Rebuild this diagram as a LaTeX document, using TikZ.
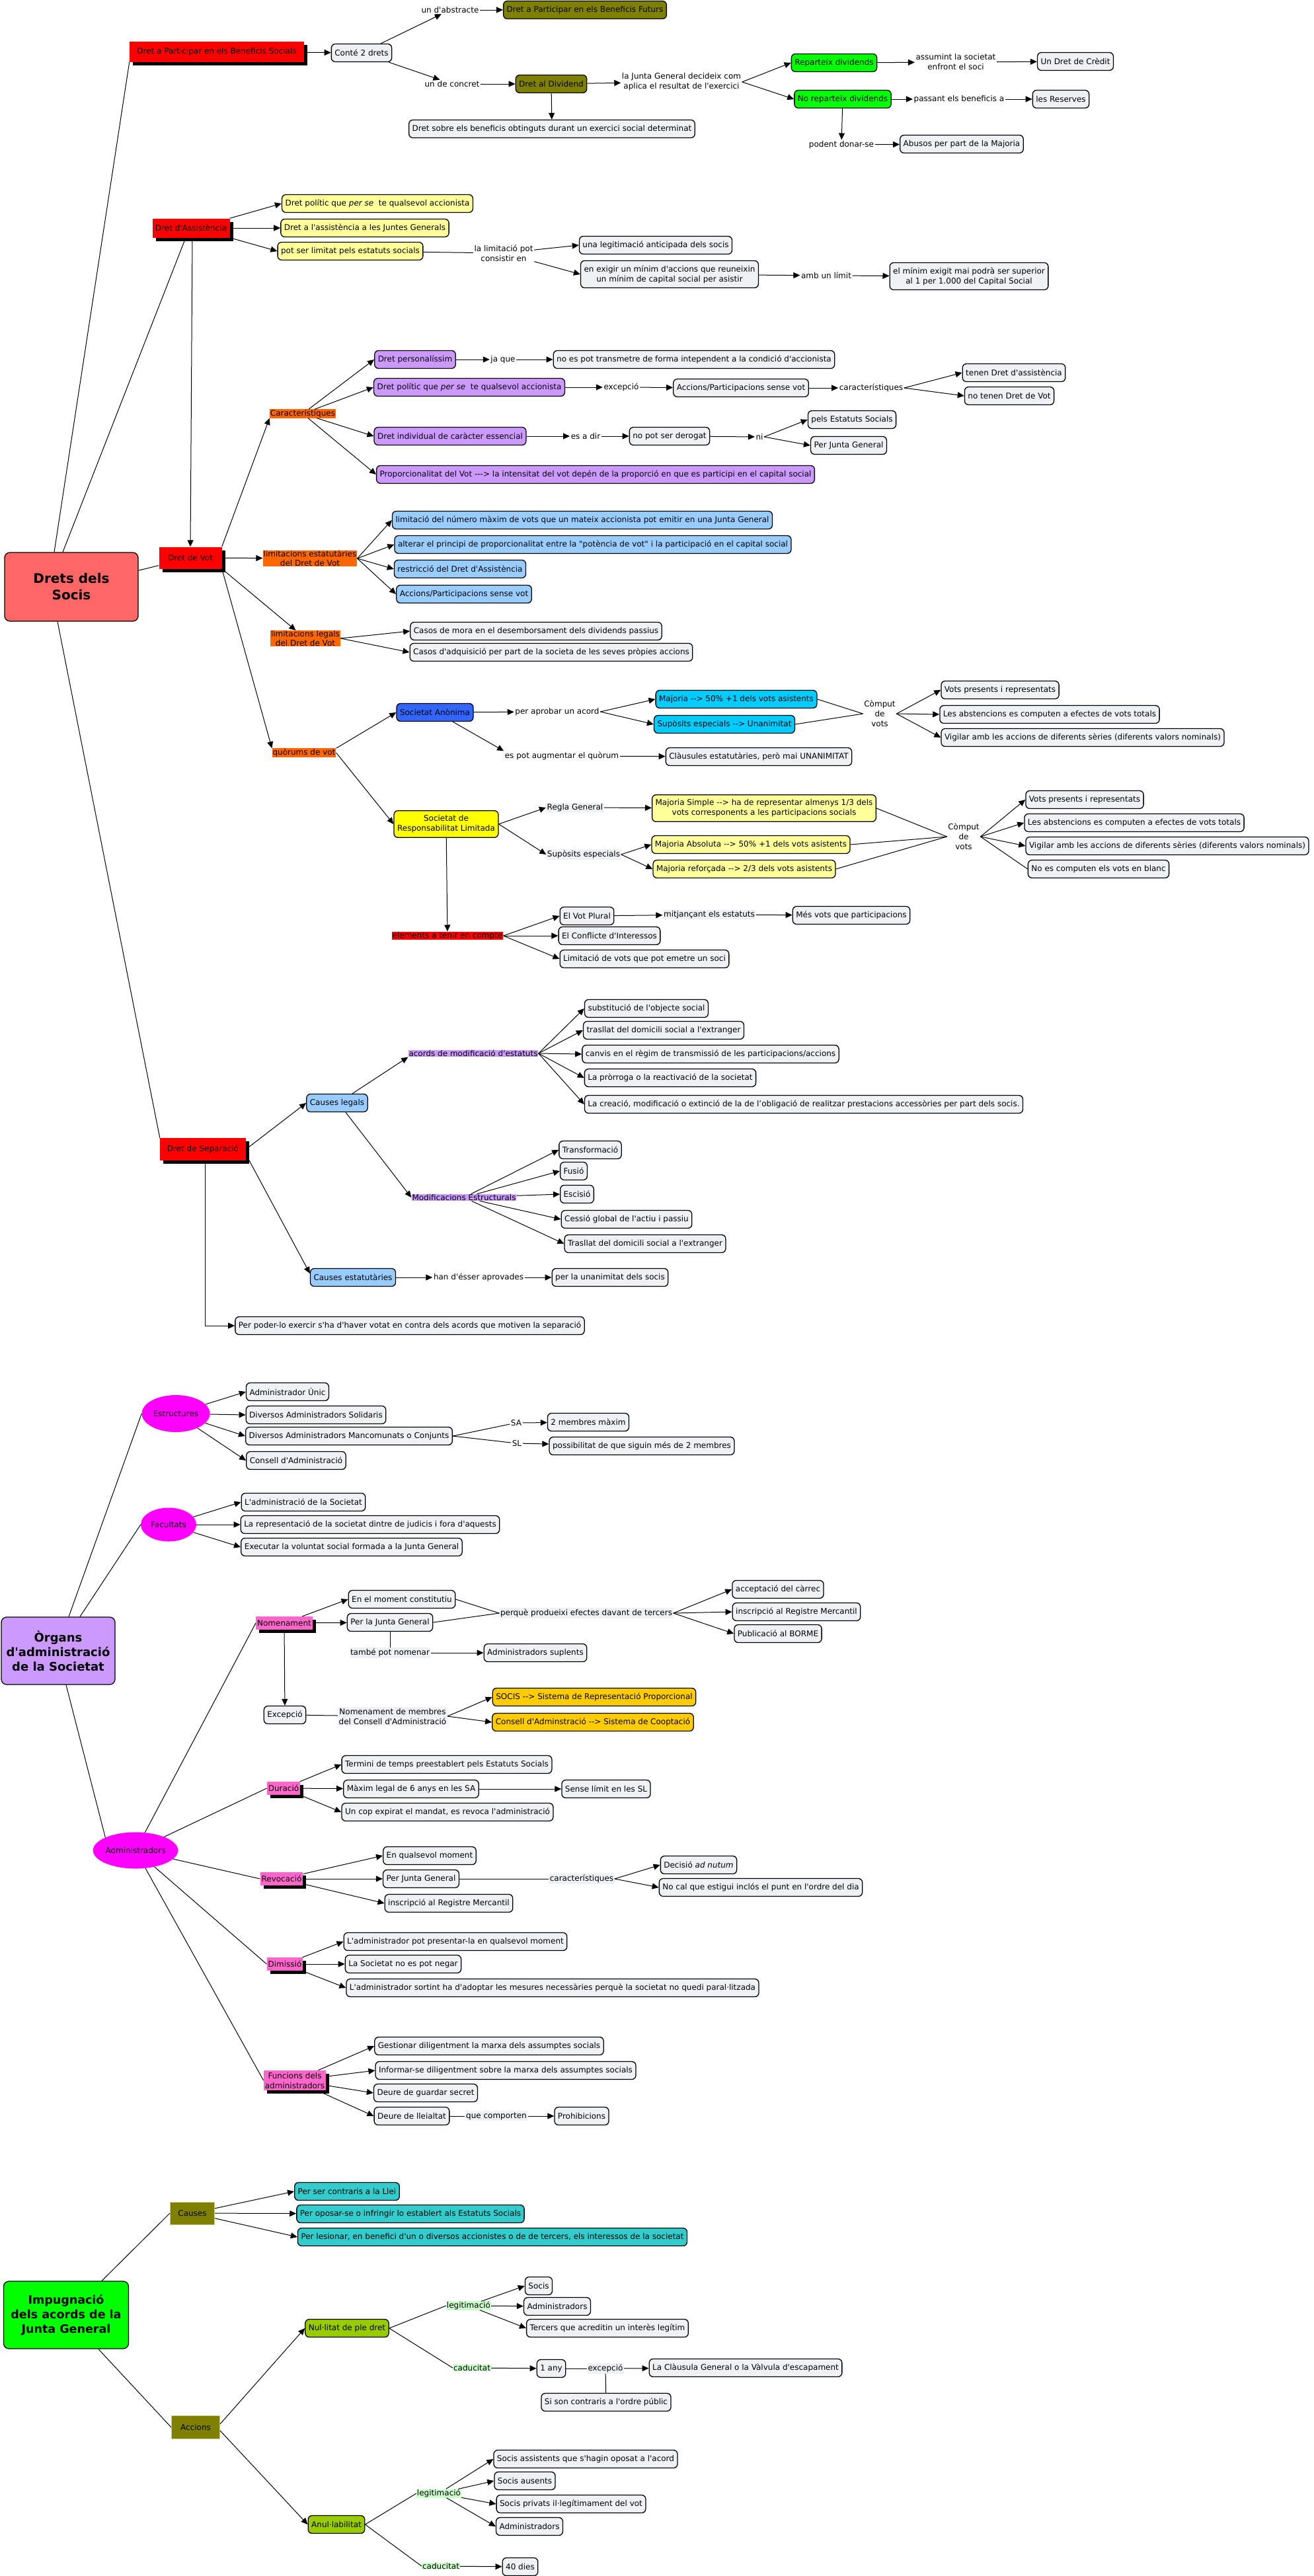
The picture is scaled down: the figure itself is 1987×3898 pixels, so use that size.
\documentclass[tikz,border=0pt]{standalone}
\usepackage{fontspec}
\newfontfamily\dv{DejaVu Sans}
\usetikzlibrary{arrows.meta,shapes.geometric,shadows}
\definecolor{cRed}{HTML}{FF0000}
\definecolor{cSalmon}{HTML}{FF6666}
\definecolor{cOlive}{HTML}{808000}
\definecolor{cGreen}{HTML}{00FF00}
\definecolor{cLYellow}{HTML}{FFFF99}
\definecolor{cPurp}{HTML}{CC99FF}
\definecolor{cOrange}{HTML}{FF6600}
\definecolor{cLBlue}{HTML}{99CCFF}
\definecolor{cSABlue}{HTML}{3366FF}
\definecolor{cCyan}{HTML}{00CCFF}
\definecolor{cYellow}{HTML}{FFFF00}
\definecolor{cMag}{HTML}{FF00FF}
\definecolor{cPink}{HTML}{FF66CC}
\definecolor{cGold}{HTML}{FFCC00}
\definecolor{cTeal}{HTML}{33CCCC}
\definecolor{cYGreen}{HTML}{99CC00}
\definecolor{cLGreen}{HTML}{CCFFCC}
\definecolor{boxbg}{HTML}{EEF2F4}
\definecolor{oborder}{HTML}{CCCC88}
\tikzset{
  every node/.style={font=\dv\fontsize{12}{15}\selectfont, align=center},
  box/.style={draw=black, line width=1.3pt, rounded corners=6pt, fill=boxbg, inner xsep=5pt, inner ysep=7pt, minimum height=27pt},
  shad/.style={drop shadow={shadow xshift=5pt, shadow yshift=-5pt, fill=black, opacity=1}},
  redbox/.style={fill=cRed, shad, inner sep=2pt},
  pbox/.style={fill=cPink, shad, inner xsep=2pt, inner ysep=3pt, minimum height=20pt},
  tag/.style={inner xsep=1pt, inner ysep=0.5pt, font=\dv\fontsize{12}{13.5}\selectfont},
  olbl/.style={tag, fill=cOrange},
  rlbl/.style={tag, fill=cRed},
  plbl/.style={tag, fill=cPurp},
  glbl/.style={tag, fill=cLGreen},
  lbl/.style={inner sep=1.5pt, fill=white},
  lblg/.style={inner sep=1.5pt, fill=boxbg},
  ell/.style={ellipse, fill=cMag, inner sep=0pt},
  obox/.style={fill=cOlive, draw=oborder, line width=1pt, minimum height=34pt, inner xsep=6pt},
  ln/.style={draw=black, line width=1pt},
  ar/.style={ln, -{Triangle[length=10pt,width=9pt]}},
}
\begin{document}
\begin{tikzpicture}[x=1pt,y=-1pt]
\path[use as bounding box, fill=white] (0,0) rectangle (1987,3898);

% ---------------- Drets dels Socis ----------------
\node[fill=cSalmon, draw=black, line width=1.3pt, rounded corners=8pt, minimum width=202pt, minimum height=104pt,
  font=\dv\bfseries\fontsize{20}{25}\selectfont] (socis) at (108,888) {Drets dels\\Socis};

% A: beneficis
\node[redbox, minimum width=264pt, minimum height=31pt] (part) at (328,78) {Dret a Participar en els Beneficis Socials};
\node[box] (conte) at (547,80) {Conté 2 drets};
\node[lbl] (abstr) at (681,15) {un d'abstracte};
\node[box, fill=cOlive] (futurs) at (885,15) {Dret a Participar en els Beneficis Futurs};
\node[lbl] (concret) at (684,127) {un de concret};
\node[box, fill=cOlive] (divid) at (834,127) {Dret al Dividend};
\node[lbl] (junta) at (1031,124) {la Junta General decideix com\\aplica el resultat de l'exercici};
\node[box] (sobre) at (835,195) {Dret sobre els beneficis obtinguts durant un exercici social determinat};
\node[box, fill=cGreen] (repart) at (1262,95) {Reparteix dividends};
\node[box, fill=cGreen] (norep) at (1275,150) {No reparteix dividends};
\node[lbl] (assum) at (1446,94) {assumint la societat\\enfront el soci};
\node[box] (credit) at (1627,93) {Un Dret de Crèdit};
\node[lbl] (passant) at (1451,150) {passant els beneficis a};
\node[box] (reserves) at (1605,150) {les Reserves};
\node[lbl] (podent) at (1273,219) {podent donar-se};
\node[box] (abusos) at (1455,218) {Abusos per part de la Majoria};

% B: assistencia
\node[redbox, minimum width=117pt, minimum height=29pt] (assist) at (289,345) {Dret d'Assistència};
\node[box, fill=cLYellow] (polit1) at (571,308) {Dret polític que \textit{per se}\ \ te qualsevol accionista};
\node[box, fill=cLYellow] (assistjg) at (552,345) {Dret a l'assistència a les Juntes Generals};
\node[box, fill=cLYellow] (potser) at (530,380) {pot ser limitat pels estatuts socials};
\node[lbl] (limit) at (762,383) {la limitació pot\\consistir en};
\node[box] (legit) at (992,371) {una legitimació anticipada dels socis};
\node[box] (exigir) at (1013,415) {en exigir un mínim d'accions que reuneixin\\un mínim de capital social per asistir};
\node[lbl] (amb) at (1250,417) {amb un límit};
\node[box] (minim) at (1466,418) {el mínim exigit mai podrà ser superior\\al 1 per 1.000 del Capital Social};

% C: vot caracteristiques
\node[redbox, minimum width=95pt, minimum height=33pt] (vot) at (288,844) {Dret de Vot};
\node[olbl] (caract) at (458,626) {Característiques};
\node[box, fill=cPurp] (personal) at (628,544) {Dret personalíssim};
\node[lbl] (jaque) at (761,544) {ja que};
\node[box] (notrans) at (1050,544) {no es pot transmetre de forma intependent a la condició d'accionista};
\node[box, fill=cPurp] (polit2) at (710,586) {Dret polític que \textit{per se}\ \ te qualsevol accionista};
\node[lbl] (excep) at (940,586) {excepció};
\node[box] (accsv) at (1121,587) {Accions/Participacions sense vot};
\node[lbl] (caract2) at (1318,587) {característiques};
\node[box] (tenen) at (1534,564) {tenen Dret d'assistència};
\node[box] (notenen) at (1527,599) {no tenen Dret de Vot};
\node[box, fill=cPurp] (indiv) at (681,660) {Dret individual de caràcter essencial};
\node[lbl] (esadir) at (886,660) {es a dir};
\node[box] (noderog) at (1013,660) {no pot ser derogat};
\node[lbl] (ni) at (1149,661) {ni};
\node[box] (pels) at (1289,635) {pels Estatuts Socials};
\node[box] (perjg) at (1284,674) {Per Junta General};
\node[box, fill=cPurp] (proporc) at (901,718) {Proporcionalitat del Vot ---> la intensitat del vot depén de la proporció en que es participi en el capital social};

% D: limitacions
\node[olbl] (limest) at (469,845) {limitacions estatutàries\\del Dret de Vot};
\node[box, fill=cLBlue] (le1) at (881,787) {limitació del número màxim de vots que un mateix accionista pot emitir en una Junta General};
\node[box, fill=cLBlue] (le2) at (897,824) {alterar el principi de proporcionalitat entre la "potència de vot" i la participació en el capital social};
\node[box, fill=cLBlue] (le3) at (696,861) {restricció del Dret d'Assistència};
\node[box, fill=cLBlue] (le4) at (702,899) {Accions/Participacions sense vot};
\node[olbl] (limleg) at (462,966) {limitacions legals\\del Dret de Vot};
\node[box] (ll1) at (811,955) {Casos de mora en el desemborsament dels dividends passius};
\node[box] (ll2) at (834,987) {Casos d'adquisició per part de la societa de les seves pròpies accions};

% E: quorums
\node[olbl] (quorum) at (460,1139) {quòrums de vot};
\node[box, fill=cSABlue] (sa) at (658,1078) {Societat Anònima};
\node[lbl] (aprobar) at (843,1077) {per aprobar un acord};
\node[box, fill=cCyan] (maj) at (1114,1058) {Majoria --> 50\% +1 dels vots asistents};
\node[box, fill=cCyan] (supesp) at (1096,1096) {Supòsits especials --> Unanimitat};
\node[lbl] (comput1) at (1331,1080) {Còmput\\de\\vots};
\node[box] (c1a) at (1513,1044) {Vots presents i representats};
\node[box] (c1b) at (1588,1081) {Les abstencions es computen a efectes de vots totals};
\node[box] (c1c) at (1638,1116) {Vigilar amb les accions de diferents sèries (diferents valors nominals)};
\node[lbl] (espot) at (850,1144) {es pot augmentar el quòrum};
\node[box] (claus) at (1148,1145) {Clàusules estatutàries, però mai UNANIMITAT};
\node[box, fill=cYellow] (srl) at (675,1247) {Societat de\\Responsabilitat Limitada};
\node[lblg] (regla) at (870,1222) {Regla General};
\node[box, fill=cLYellow] (majs) at (1156,1223) {Majoria Simple --> ha de representar almenys 1/3 dels\\vots corresponents a les participacions socials};
\node[lblg] (supesp2) at (883,1293) {Supòsits especials};
\node[box, fill=cLYellow] (maja) at (1136,1278) {Majoria Absoluta --> 50\% +1 dels vots asistents};
\node[box, fill=cLYellow] (majr) at (1126,1315) {Majoria reforçada --> 2/3 dels vots asistents};
\node[lbl] (comput2) at (1458,1266) {Còmput\\de\\vots};
\node[box] (c2a) at (1641,1210) {Vots presents i representats};
\node[box] (c2b) at (1716,1245) {Les abstencions es computen a efectes de vots totals};
\node[box] (c2c) at (1766,1280) {Vigilar amb les accions de diferents sèries (diferents valors nominals)};
\node[box] (c2d) at (1662,1315) {No es computen els vots en blanc};
\node[rlbl] (elem) at (677,1416) {elements a tenir en compte};
\node[box] (plural) at (888,1386) {El Vot Plural};
\node[lblg] (mitj) at (1073,1384) {mitjançant els estatuts};
\node[box] (mesvots) at (1288,1385) {Més vots que participacions};
\node[box] (conflicte) at (922,1416) {El Conflicte d'Interessos};
\node[box] (limvots) at (975,1451) {Limitació de vots que pot emetre un soci};

% F: separacio
\node[redbox, minimum width=130pt, minimum height=34pt] (sep) at (307,1739) {Dret de Separació};
\node[box, fill=cLBlue] (clegals) at (510,1669) {Causes legals};
\node[plbl] (acords) at (716,1594) {acords de modificació d'estatuts};
\node[box] (a1) at (978,1526) {substitució de l'objecte social};
\node[box] (a2) at (1004,1559) {trasllat del domicili social a l'extranger};
\node[box] (a3) at (1075,1595) {canvis en el règim de transmissió de les participacions/accions};
\node[box] (a4) at (1014,1631) {La pròrroga o la reactivació de la societat};
\node[box] (a5) at (1216,1671) {La creació, modificació o extinció de la de l’obligació de realitzar prestacions accessòries per part dels socis.};
\node[plbl] (modest) at (702,1812) {Modificacions Estructurals};
\node[box] (m1) at (893,1740) {Transformació};
\node[box] (m2) at (868,1772) {Fusió};
\node[box] (m3) at (873,1807) {Escisió};
\node[box] (m4) at (948,1845) {Cessió global de l'actiu i passiu};
\node[box] (m5) at (976,1882) {Trasllat del domicili social a l'extranger};
\node[box, fill=cLBlue] (cest) at (534,1933) {Causes estatutàries};
\node[lbl] (hand) at (724,1933) {han d'ésser aprovades};
\node[box] (unan) at (923,1933) {per la unanimitat dels socis};
\node[box] (perpoder) at (620,2006) {Per poder-lo exercir s'ha d'haver votat en contra dels acords que motiven la separació};

% ---------------- Organs ----------------
\node[fill=cPurp, draw=black, line width=1.3pt, rounded corners=8pt, minimum width=172pt, minimum height=102pt,
  font=\dv\bfseries\fontsize{18}{22}\selectfont] (organs) at (88,2498) {Òrgans\\d'administració\\de la Societat};
\node[ell, minimum width=103pt, minimum height=56pt] (estr) at (266,2139) {Estructures};
\node[box] (g1) at (435,2106) {Administrador Únic};
\node[box] (g2) at (478,2141) {Diversos Administradors Solidaris};
\node[box] (g3) at (528,2173) {Diversos Administradors Mancomunats o Conjunts};
\node[box] (g4) at (448,2210) {Consell d'Administració};
\node[lbl] (sal) at (781,2153) {SA};
\node[box] (g5) at (890,2152) {2 membres màxim};
\node[lbl] (sll) at (782,2184) {SL};
\node[box] (g6) at (971,2188) {possibilitat de que siguin més de 2 membres};
\node[ell, minimum width=84pt, minimum height=51pt] (facul) at (255,2307) {Facultats};
\node[box] (f1) at (459,2273) {L'administració de la Societat};
\node[box] (f2) at (560,2307) {La representació de la societat dintre de judicis i fora d'aquests};
\node[box] (f3) at (532,2341) {Executar la voluntat social formada a la Junta General};

\node[ell, minimum width=112pt, minimum height=55pt] (admin) at (205,2800) {Administradors};
\node[pbox] (nomen) at (430,2456) {Nomenament};
\node[box] (n1) at (608,2420) {En el moment constitutiu};
\node[box] (n2) at (590,2455) {Per la Junta General};
\node[lblg] (perque) at (887,2441) {perquè produeixi efectes davant de tercers};
\node[box] (n3) at (1177,2405) {acceptació del càrrec};
\node[box] (n4) at (1205,2439) {inscripció al Registre Mercantil};
\node[box] (n5) at (1177,2472) {Publicació al BORME};
\node[lblg] (tambe) at (590,2501) {també pot nomenar};
\node[box] (n6) at (810,2501) {Administradors suplents};
\node[box] (excepc) at (431,2595) {Excepció};
\node[lblg] (nmem) at (594,2597) {Nomenament de membres\\del Consell d'Administració};
\node[box, fill=cGold] (socisb) at (899,2568) {SOCIS --> Sistema de Representació Proporcional};
\node[box, fill=cGold] (consb) at (897,2606) {Consell d'Adminstració --> Sistema de Cooptació};
\node[pbox] (durac) at (429,2706) {Duració};
\node[box] (d1) at (676,2670) {Termini de temps preestablert pels Estatuts Socials};
\node[box] (d2) at (622,2707) {Màxim legal de 6 anys en les SA};
\node[box] (d3) at (917,2707) {Sense límit en les SL};
\node[box] (d4) at (677,2742) {Un cop expirat el mandat, es revoca l'administració};

\node[pbox] (revoc) at (426,2843) {Revocació};
\node[box] (r1) at (650,2808) {En qualsevol moment};
\node[box] (r2) at (637,2843) {Per Junta General};
\node[lblg] (caract3) at (880,2843) {característiques};
\node[box] (r3) at (1057,2822) {Decisió \textit{ad nutum}};
\node[box] (r4) at (1151,2856) {No cal que estigui inclós el punt en l'ordre del dia};
\node[box] (r5) at (679,2880) {inscripció al Registre Mercantil};
\node[pbox] (dimis) at (431,2972) {Dimissió};
\node[box] (di1) at (689,2938) {L'administrador pot presentar-la en qualsevol moment};
\node[box] (di2) at (610,2972) {La Societat no es pot negar};
\node[box] (di3) at (836,3008) {L'administrador sortint ha d'adoptar les mesures necessàries perquè la societat no quedi paral·litzada};
\node[pbox] (func) at (446,3148) {Funcions dels\\administradors};
\node[box] (fu1) at (740,3096) {Gestionar diligentment la marxa dels assumptes socials};
\node[box] (fu2) at (765,3133) {Informar-se diligentment sobre la marxa dels assumptes socials};
\node[box] (fu3) at (644,3167) {Deure de guardar secret};
\node[box] (fu4) at (623,3202) {Deure de lleialtat};
\node[lblg] (quecomp) at (751,3202) {que comporten};
\node[box] (fu5) at (880,3202) {Prohibicions};

% ---------------- Impugnacio ----------------
\node[fill=cGreen, draw=black, line width=1.3pt, rounded corners=8pt, minimum width=189pt, minimum height=102pt,
  font=\dv\bfseries\fontsize{17.5}{22}\selectfont] (impug) at (100,3503) {Impugnació\\dels acords de la\\Junta General};
\node[obox, minimum width=67pt] (causes) at (291,3349) {Causes};
\node[box, fill=cTeal] (i1) at (525,3316) {Per ser contraris a la Llei};
\node[box, fill=cTeal] (i2) at (621,3350) {Per oposar-se o infringir lo establert als Estatuts Socials};
\node[box, fill=cTeal] (i3) at (745,3385) {Per lesionar, en benefici d'un o diversos accionistes o de de tercers, els interessos de la societat};
\node[obox, minimum width=73pt, minimum height=35pt] (accions) at (296,3673) {Accions};
\node[box, fill=cYGreen] (nul) at (525,3523) {Nul·litat de ple dret};
\node[glbl] (legit1) at (709,3489) {legitimació};
\node[box] (j1) at (815,3459) {Socis};
\node[box] (j2) at (843,3490) {Administradors};
\node[box] (j3) at (919,3523) {Tercers que acreditin un interès legítim};
\node[glbl] (cad1) at (714,3583) {caducitat};
\node[box] (any) at (834,3584) {1 any};
\node[lblg] (exc2) at (916,3584) {excepció};
\node[box] (claus2) at (1128,3583) {La Clàusula General o la Vàlvula d'escapament};
\node[box] (sison) at (917,3635) {Si son contraris a l'ordre públic};
\node[box, fill=cYGreen] (anul) at (509,3820) {Anul·labilitat};
\node[glbl] (legit2) at (664,3773) {legitimació};
\node[box] (k1) at (886,3721) {Socis assistents que s'hagin oposat a l'acord};
\node[box] (k2) at (794,3754) {Socis ausents};
\node[box] (k3) at (864,3789) {Socis privats il·legítimament del vot};
\node[box] (k4) at (801,3823) {Administradors};
\node[glbl] (cad2) at (667,3883) {caducitat};
\node[box] (dies) at (787,3884) {40 dies};

% ================= connectors =================
% root
\draw[ln] ([xshift=-26pt]socis.north) -- (part.south west);
\draw[ln] ([xshift=-13pt]socis.north) -- ([xshift=-8pt]assist.south);
\draw[ln] (socis) -- (vot);
\draw[ln] ([xshift=-21pt]socis.south) -- (sep.north west);
% A
\draw[ar] (part) -- (conte);
\draw[ar] (conte) -- (abstr);
\draw[ar] (abstr) -- (futurs);
\draw[ar] (conte) -- (concret);
\draw[ar] (concret) -- (divid);
\draw[ar] (divid) -- (junta);
\draw[ar] (divid) -- (sobre);
\draw[ar] (junta.east) -- (repart.west);
\draw[ar] (junta.east) -- (norep.west);
\draw[ar] (repart) -- (assum);
\draw[ar] (assum) -- (credit);
\draw[ar] (norep) -- (passant);
\draw[ar] (passant) -- (reserves);
\draw[ar] (norep) -- (podent);
\draw[ar] (podent) -- (abusos);
% B
\draw[ar] ([xshift=2pt]assist.south) -- (vot.north);
\draw[ar] (assist.north east) -- (polit1.west);
\draw[ar] (assist) -- (assistjg);
\draw[ar] (assist.south east) -- (potser.west);
\draw[ln] (potser) -- (limit);
\draw[ar] (limit) -- (legit.west);
\draw[ar] (limit) -- (exigir.west);
\draw[ar] (exigir) -- (amb);
\draw[ar] (amb) -- (minim);
% C
\draw[ar] (vot.north east) -- (caract.south west);
\draw[ar] (caract) -- (personal.west);
\draw[ar] (caract) -- (polit2.west);
\draw[ar] (caract) -- (indiv.west);
\draw[ar] (caract) -- (proporc.west);
\draw[ar] (personal) -- (jaque);
\draw[ar] (jaque) -- (notrans);
\draw[ar] (polit2) -- (excep);
\draw[ar] (excep) -- (accsv);
\draw[ar] (accsv) -- (caract2);
\draw[ar] (caract2.east) -- (tenen.west);
\draw[ar] (caract2.east) -- (notenen.west);
\draw[ar] (indiv) -- (esadir);
\draw[ar] (esadir) -- (noderog);
\draw[ar] (noderog) -- (ni);
\draw[ar] (ni.east) -- (pels.west);
\draw[ar] (ni.east) -- (perjg.west);
% D
\draw[ar] (vot) -- (limest);
\draw[ar] (limest.east) -- (le1.west);
\draw[ar] (limest.east) -- (le2.west);
\draw[ar] (limest.east) -- (le3.west);
\draw[ar] (limest.east) -- (le4.west);
\draw[ar] (vot.south east) -- (limleg);
\draw[ar] (limleg.east) -- (ll1.west);
\draw[ar] (limleg.east) -- (ll2.west);
% E
\draw[ar] (vot.south east) -- (quorum.north west);
\draw[ar] (quorum.north east) -- (sa.west);
\draw[ar] (quorum.east) -- (srl.west);
\draw[ar] (sa) -- (aprobar);
\draw[ar] (aprobar.east) -- (maj.west);
\draw[ar] (aprobar.east) -- (supesp.west);
\draw[ln] (maj.east) -- (comput1.west);
\draw[ln] (supesp.east) -- (comput1.west);
\draw[ar] (comput1.east) -- (c1a.west);
\draw[ar] (comput1.east) -- (c1b.west);
\draw[ar] (comput1.east) -- (c1c.west);
\draw[ar] ([xshift=27pt]sa.south) -- (espot.north west);
\draw[ar] (espot) -- (claus);
\draw[ar] (srl.east) -- (regla.west);
\draw[ar] (srl.east) -- (supesp2.west);
\draw[ar] (regla) -- (majs);
\draw[ar] (supesp2.east) -- (maja.west);
\draw[ar] (supesp2.east) -- (majr.west);
\draw[ln] (majs.east) -- (comput2.west);
\draw[ln] (maja.east) -- (comput2.west);
\draw[ln] (majr.east) -- (comput2.west);
\draw[ar] (comput2.east) -- (c2a.west);
\draw[ar] (comput2.east) -- (c2b.west);
\draw[ar] (comput2.east) -- (c2c.west);
\draw[ln] (comput2.east) -- (c2d.west);
\draw[ar] (srl) -- (elem);
\draw[ar] (elem.east) -- (plural.west);
\draw[ar] (elem.east) -- (conflicte.west);
\draw[ar] (elem.east) -- (limvots.west);
\draw[ar] (plural) -- (mitj);
\draw[ar] (mitj) -- (mesvots);
% F
\draw[ar] (sep.east) -- (clegals.west);
\draw[ar] ([yshift=-8pt]sep.east) -- ([yshift=6pt]cest.west);
\draw[ar] ([xshift=3pt]sep.south) |- (perpoder.west);
\draw[ar] ([xshift=23pt]clegals.north) -- (acords.south west);
\draw[ar] ([xshift=13pt]clegals.south) -- (modest.west);
\draw[ar] (acords.east) -- (a1.west);
\draw[ar] (acords.east) -- (a2.west);
\draw[ar] (acords.east) -- (a3.west);
\draw[ar] (acords.east) -- (a4.west);
\draw[ar] (acords.east) -- (a5.west);
\draw[ar] (modest) -- (m1.west);
\draw[ar] (modest) -- (m2.west);
\draw[ar] (modest) -- (m3.west);
\draw[ar] (modest) -- (m4.west);
\draw[ar] (modest) -- (m5.west);
\draw[ar] (cest) -- (hand);
\draw[ar] (hand) -- (unan);
% G
\draw[ln] ([xshift=16pt]organs.north) -- (estr.west);
\draw[ln] ([xshift=33pt]organs.north) -- (facul.west);
\draw[ln] ([xshift=12pt]organs.south) -- (admin.north west);
\draw[ar] (estr) -- (g1.west);
\draw[ar] (estr) -- (g2.west);
\draw[ar] (estr) -- (g3.west);
\draw[ar] (estr) -- (g4.west);
\draw[ln] (g3.east) -- (sal);
\draw[ln] (g3.east) -- (sll);
\draw[ar] (sal) -- (g5);
\draw[ar] (sll) -- (g6);
\draw[ar] (facul) -- (f1.west);
\draw[ar] (facul) -- (f2.west);
\draw[ar] (facul) -- (f3.west);
% H
\draw[ln] (admin) -- (nomen.west);
\draw[ln] (admin) -- (durac.west);
\draw[ln] (admin) -- (revoc.west);
\draw[ln] (admin) -- (dimis.west);
\draw[ln] (admin) -- (func.west);
\draw[ar] (nomen) -- (n1.west);
\draw[ar] (nomen) -- (n2);
\draw[ln] (n1.east) -- (perque.west);
\draw[ln] (n2.east) -- (perque.west);
\draw[ar] (perque.east) -- (n3.west);
\draw[ar] (perque.east) -- (n4.west);
\draw[ar] (perque.east) -- (n5.west);
\draw[ln] (n2.south) -- (tambe.north);
\draw[ar] (tambe) -- (n6);
\draw[ar] (nomen) -- (excepc);
\draw[ln] (excepc) -- (nmem);
\draw[ar] (nmem.east) -- (socisb.west);
\draw[ar] (nmem.east) -- (consb.west);
\draw[ar] (durac) -- (d1.west);
\draw[ar] (durac) -- (d2);
\draw[ar] (durac) -- (d4.west);
\draw[ar] (d2) -- (d3);
% I
\draw[ar] (revoc) -- (r1.west);
\draw[ar] (revoc) -- (r2);
\draw[ar] (revoc) -- (r5.west);
\draw[ln] (r2) -- (caract3);
\draw[ar] (caract3.east) -- (r3.west);
\draw[ar] (caract3.east) -- (r4.west);
\draw[ar] (dimis) -- (di1.west);
\draw[ar] (dimis) -- (di2);
\draw[ar] (dimis) -- (di3.west);
\draw[ar] (func) -- (fu1.west);
\draw[ar] (func) -- (fu2.west);
\draw[ar] (func) -- (fu3.west);
\draw[ar] (func) -- (fu4.west);
\draw[ln] (fu4) -- (quecomp);
\draw[ar] (quecomp) -- (fu5);
% J
\draw[ln] ([xshift=54pt]impug.north) -- (causes.west);
\draw[ln] ([xshift=49pt]impug.south) -- (accions.west);
\draw[ar] (causes) -- (i1.west);
\draw[ar] (causes) -- (i2);
\draw[ar] (causes) -- (i3.west);
\draw[ar] ([yshift=5pt]accions.east) -- (nul.west);
\draw[ar] ([yshift=-5pt]accions.east) -- (anul.west);
\draw[ln] (nul.east) -- (legit1.west);
\draw[ln] (nul.east) -- (cad1.west);
\draw[ar] (legit1) -- (j1.west);
\draw[ar] (legit1) -- (j2);
\draw[ar] (legit1) -- (j3.west);
\draw[ar] (cad1) -- (any);
\draw[ln] (any) -- (exc2);
\draw[ar] (exc2) -- (claus2);
\draw[ln] (exc2) -- (sison);
\draw[ln] (anul.east) -- (legit2.west);
\draw[ln] (anul.east) -- (cad2.west);
\draw[ar] (legit2) -- (k1.west);
\draw[ar] (legit2) -- (k2.west);
\draw[ar] (legit2) -- (k3.west);
\draw[ar] (legit2) -- (k4.west);
\draw[ar] (cad2) -- (dies);
\end{tikzpicture}
\end{document}
